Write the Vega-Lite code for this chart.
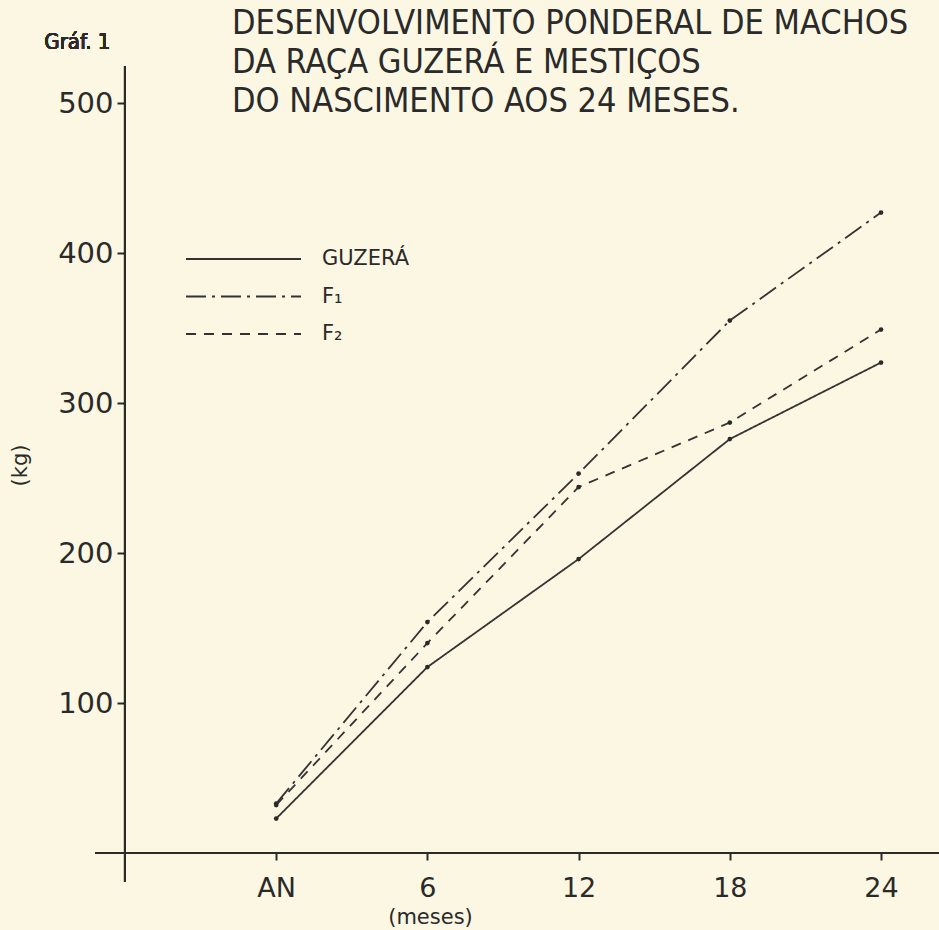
{
  "$schema": "https://vega.github.io/schema/vega-lite/v6.json",
  "autosize": {"type": "none"},
  "padding": {"left": 95, "top": 66, "right": 0, "bottom": 48},
  "width": 844,
  "height": 816,
  "background": "#fbf7e2",
  "config": {
    "view": {"stroke": null},
    "font": "DejaVu Sans"
  },
  "title": {
    "text": ["DESENVOLVIMENTO PONDERAL DE MACHOS", "DA RAÇA GUZERÁ E MESTIÇOS", "DO NASCIMENTO AOS 24 MESES."],
    "anchor": "start",
    "frame": "group",
    "orient": "top",
    "offset": 0,
    "dx": 137,
    "dy": 88,
    "font": "DejaVu Sans Condensed",
    "fontSize": 34,
    "fontWeight": "normal",
    "lineHeight": 39,
    "color": "#2a2a2a"
  },
  "data": {
    "values": [
      {"serie": "GUZERÁ", "mes": 0, "peso": 23},
      {"serie": "GUZERÁ", "mes": 6, "peso": 124},
      {"serie": "GUZERÁ", "mes": 12, "peso": 196},
      {"serie": "GUZERÁ", "mes": 18, "peso": 276},
      {"serie": "GUZERÁ", "mes": 24, "peso": 327},
      {"serie": "F₁", "mes": 0, "peso": 33},
      {"serie": "F₁", "mes": 6, "peso": 154},
      {"serie": "F₁", "mes": 12, "peso": 253},
      {"serie": "F₁", "mes": 18, "peso": 355},
      {"serie": "F₁", "mes": 24, "peso": 427},
      {"serie": "F₂", "mes": 0, "peso": 32},
      {"serie": "F₂", "mes": 6, "peso": 140},
      {"serie": "F₂", "mes": 12, "peso": 244},
      {"serie": "F₂", "mes": 18, "peso": 287},
      {"serie": "F₂", "mes": 24, "peso": 349}
    ]
  },
  "layer": [
    {
      "mark": {"type": "rule", "color": "#2a2a2a", "strokeWidth": 2},
      "encoding": {
        "x": {"datum": -6, "type": "quantitative"},
        "y": {"datum": -19.3, "type": "quantitative"},
        "y2": {"datum": 524.7}
      }
    },
    {
      "mark": {"type": "rule", "color": "#2a2a2a", "strokeWidth": 2},
      "encoding": {
        "x": {"datum": -7.19, "type": "quantitative"},
        "x2": {"datum": 26.3},
        "y": {"datum": 0, "type": "quantitative"}
      }
    },
    {
      "mark": {"type": "line", "color": "#333333", "strokeWidth": 1.8},
      "encoding": {
        "x": {
          "field": "mes", "type": "quantitative",
          "scale": {"domain": [-7.19, 26.3], "nice": false, "zero": false},
          "axis": {
            "title": "(meses)",
            "values": [0, 6, 12, 18, 24],
            "labelExpr": "datum.value == 0 ? 'AN' : datum.label",
            "domain": false,
            "grid": false,
            "offset": -29,
            "tickSize": 7,
            "tickWidth": 2,
            "tickColor": "#2a2a2a",
            "labelFontSize": 27,
            "labelColor": "#2a2a2a",
            "labelPadding": 15,
            "titleFontSize": 21,
            "titleFontWeight": "normal",
            "titleColor": "#2a2a2a",
            "titleX": 335,
            "titleY": 64,
            "titleBaseline": "middle",
            "titleAnchor": "middle"
          }
        },
        "y": {
          "field": "peso", "type": "quantitative",
          "scale": {"domain": [-19.3, 524.7], "nice": false, "zero": false},
          "axis": {
            "title": "(kg)",
            "values": [100, 200, 300, 400, 500],
            "domain": false,
            "grid": false,
            "offset": -30,
            "tickSize": 8,
            "tickWidth": 2,
            "tickColor": "#2a2a2a",
            "labelFontSize": 29,
            "labelColor": "#2a2a2a",
            "labelPadding": 4,
            "titleFontSize": 21,
            "titleFontWeight": "normal",
            "titleColor": "#2a2a2a",
            "titleX": -105,
            "titleY": 399,
            "titleBaseline": "middle",
            "titleAnchor": "middle"
          }
        },
        "strokeDash": {
          "field": "serie", "type": "nominal",
          "scale": {"domain": ["GUZERÁ", "F₁", "F₂"], "range": [[1, 0], [20, 6, 3, 6], [10, 8]]},
          "legend": {
            "title": null,
            "orient": "none",
            "legendX": 90,
            "legendY": 180.5,
            "symbolType": "M-1,0H9",
            "symbolSize": 529,
            "symbolStrokeWidth": 2,
            "symbolStrokeColor": "#333333",
            "labelFontSize": 21,
            "labelColor": "#2a2a2a",
            "labelOffset": 112,
            "rowPadding": 14.5
          }
        }
      }
    },
    {
      "mark": {"type": "point", "filled": true, "color": "#2a2a2a", "size": 22, "opacity": 1},
      "encoding": {
        "x": {"field": "mes", "type": "quantitative"},
        "y": {"field": "peso", "type": "quantitative"},
        "detail": {"field": "serie"}
      }
    },
    {
      "mark": {"type": "text", "text": "Gráf. 1", "font": "DejaVu Sans Condensed", "fontSize": 22, "align": "left", "baseline": "middle", "color": "#2a2a2a"},
      "encoding": {
        "x": {"datum": -9.2, "type": "quantitative"},
        "y": {"datum": 540.7, "type": "quantitative"}
      }
    }
  ]
}
